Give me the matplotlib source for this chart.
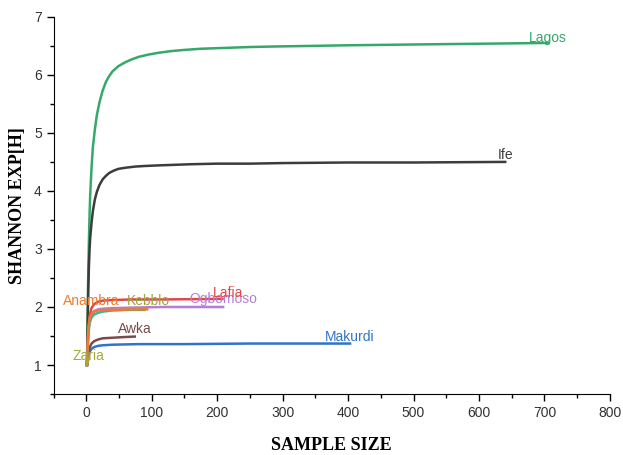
import matplotlib.pyplot as plt
from matplotlib.ticker import MultipleLocator

# Rarefaction-style curves (sample size, exp(H))
lagos_x = [1, 2, 3, 4, 5, 6, 8, 10, 13, 16, 20, 25, 30, 35, 40, 49, 60, 70, 80, 95,
           110, 130, 150, 175, 200, 250, 293, 350, 400, 476, 550, 630, 705]
lagos_y = [1.0, 1.8, 2.6, 3.15, 3.6, 3.95, 4.4, 4.75, 5.05, 5.3, 5.52, 5.73, 5.88, 5.98,
           6.06, 6.15, 6.22, 6.27, 6.31, 6.35, 6.38, 6.41, 6.43, 6.45, 6.46, 6.48, 6.49,
           6.5, 6.51, 6.52, 6.53, 6.54, 6.55]

ife_x = [1, 2, 3, 4, 5, 6, 8, 10, 13, 16, 20, 25, 30, 35, 42, 49, 60, 75, 90, 110,
         135, 160, 200, 250, 300, 400, 500, 640]
ife_y = [1.0, 1.6, 2.3, 2.7, 3.0, 3.2, 3.45, 3.65, 3.85, 3.98, 4.1, 4.2, 4.26, 4.31,
         4.35, 4.38, 4.4, 4.42, 4.43, 4.44, 4.45, 4.46, 4.47, 4.47, 4.48, 4.49, 4.49, 4.5]

lafia_x = [1, 3, 5, 8, 12, 18, 25, 40, 70, 120, 208]
lafia_y = [1.0, 1.6, 1.85, 1.98, 2.05, 2.09, 2.11, 2.12, 2.13, 2.13, 2.14]

ogbomoso_x = [1, 3, 5, 8, 12, 18, 25, 40, 70, 120, 209]
ogbomoso_y = [1.0, 1.55, 1.78, 1.88, 1.93, 1.96, 1.97, 1.98, 1.99, 2.0, 2.0]

anambra_x = [1, 2, 3, 5, 8, 12, 18, 30, 50, 75, 93]
anambra_y = [1.0, 1.3, 1.6, 1.8, 1.88, 1.92, 1.94, 1.95, 1.95, 1.96, 1.96]

kebbi_x = [1, 3, 5, 8, 12, 18, 25, 40, 60, 89]
kebbi_y = [1.0, 1.5, 1.72, 1.82, 1.87, 1.9, 1.92, 1.94, 1.95, 1.95]

awka_x = [1, 2, 3, 5, 8, 12, 18, 25, 40, 55, 74]
awka_y = [1.0, 1.12, 1.2, 1.3, 1.37, 1.41, 1.44, 1.46, 1.47, 1.48, 1.49]

makurdi_x = [1, 2, 3, 5, 8, 12, 18, 25, 40, 80, 150, 250, 403]
makurdi_y = [1.0, 1.08, 1.15, 1.23, 1.28, 1.31, 1.33, 1.34, 1.35, 1.36, 1.36, 1.37, 1.37]

zaria_x = [1, 2, 3, 4]
zaria_y = [1.0, 1.05, 1.08, 1.1]

series = [
    ('Lagos', lagos_x, lagos_y, '#35a86a', 705, 6.64),
    ('Ife', ife_x, ife_y, '#3c3c3c', 640, 4.62),
    ('Makurdi', makurdi_x, makurdi_y, '#2f74c8', 403, 1.49),
    ('Awka', awka_x, awka_y, '#7a4a4a', 74, 1.62),
    ('Ogbomoso', ogbomoso_x, ogbomoso_y, '#b37fd6', 210, 2.13),
    ('Lafia', lafia_x, lafia_y, '#e0474c', 217, 2.24),
    ('Kebblo', kebbi_x, kebbi_y, '#2fb7a7', 95, 2.11),
    ('Anambra', anambra_x, anambra_y, '#f07a2a', 8, 2.11),
    ('Zaria', zaria_x, zaria_y, '#a5a83c', 4, 1.15),
]

fig = plt.figure(figsize=(6.23, 4.55), dpi=100)
ax = fig.add_axes([0.086, 0.134, 0.893, 0.829])

for name, xs, ys, col, lx, ly in series:
    ax.plot(xs, ys, color=col, lw=1.8)
    tcol = '#9aa83c' if name == 'Kebblo' else col
    ax.text(lx, ly, name, color=tcol, fontsize=10, ha='center', va='center',
            family='Liberation Sans')

ax.set_xlim(-50, 800)
ax.set_ylim(0.5, 7)
ax.xaxis.set_major_locator(MultipleLocator(100))
ax.xaxis.set_minor_locator(MultipleLocator(50))
ax.yaxis.set_major_locator(MultipleLocator(1))
ax.yaxis.set_minor_locator(MultipleLocator(0.5))
ax.tick_params(which='major', length=5, width=1, labelsize=10, labelcolor='#333333')
ax.tick_params(which='minor', length=3, width=1)
for lab in ax.get_xticklabels() + ax.get_yticklabels():
    lab.set_family('Liberation Sans')
ax.spines['top'].set_visible(False)
ax.spines['right'].set_visible(False)

ax.set_xlabel('SAMPLE SIZE', fontsize=13, fontweight='bold', family='Liberation Serif', labelpad=12)
ax.set_ylabel('SHANNON EXP[H]', fontsize=13, fontweight='bold', family='Liberation Serif', labelpad=6)

plt.savefig('out.png', dpi=100)
